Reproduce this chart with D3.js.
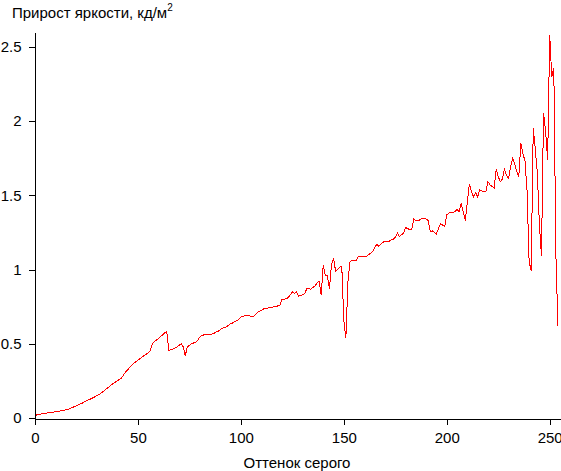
<!DOCTYPE html>
<html><head><meta charset="utf-8">
<script src="https://cdn.jsdelivr.net/npm/d3@7"></script>
<style>
html,body{margin:0;padding:0;background:#fff;}
svg{display:block;font-family:"Liberation Sans",Arial,sans-serif;}
</style></head>
<body><svg id="chart" width="561" height="471"></svg>
<script>
const yTitle = "Прирост яркости, кд/м";
const yTitleSup = "2";
const xTitle = "Оттенок серого";
const xTicks = [0, 50, 100, 150, 200, 250];
const yTicks = [0, 0.5, 1, 1.5, 2, 2.5];
const brightnessGain = [
0.018,0.021,0.024,0.027,0.03,0.032,0.034,0.036,0.038,0.04,
0.042,0.044,0.046,0.049,0.052,0.055,0.058,0.064,0.07,0.076,
0.082,0.088,0.094,0.10,0.11,0.116,0.122,0.128,0.135,0.142,
0.15,0.158,0.166,0.177,0.188,0.2,0.211,0.222,0.232,0.241,
0.25,0.26,0.27,0.29,0.31,0.325,0.34,0.355,0.368,0.38,
0.39,0.40,0.41,0.42,0.43,0.44,0.455,0.50,0.515,0.525,
0.535,0.55,0.56,0.575,0.58,0.455,0.46,0.465,0.47,0.48,
0.49,0.50,0.48,0.42,0.48,0.49,0.50,0.505,0.51,0.52,
0.545,0.555,0.56,0.565,0.565,0.565,0.566,0.57,0.58,0.585,
0.595,0.605,0.61,0.615,0.625,0.635,0.64,0.648,0.655,0.665,
0.68,0.685,0.69,0.69,0.69,0.685,0.683,0.695,0.71,0.72,
0.725,0.735,0.74,0.74,0.745,0.745,0.75,0.752,0.755,0.76,
0.80,0.80,0.805,0.81,0.83,0.85,0.84,0.85,0.82,0.825,
0.83,0.84,0.87,0.87,0.868,0.88,0.89,0.91,0.92,0.83,
1.03,0.96,0.96,0.87,1.03,1.076,0.99,1.0,1.015,1.024,
0.66,0.537,0.92,1.053,1.065,1.06,1.06,1.085,1.087,1.085,
1.09,1.09,1.1,1.11,1.12,1.15,1.17,1.155,1.17,1.184,
1.19,1.19,1.19,1.2,1.204,1.217,1.245,1.22,1.235,1.245,
1.285,1.275,1.27,1.27,1.339,1.33,1.33,1.335,1.345,1.345,
1.34,1.33,1.255,1.26,1.25,1.24,1.278,1.307,1.30,1.29,
1.368,1.38,1.383,1.383,1.39,1.406,1.39,1.447,1.39,1.33,
1.458,1.577,1.525,1.49,1.518,1.49,1.536,1.53,1.525,1.525,
1.592,1.57,1.56,1.548,1.676,1.626,1.592,1.608,1.676,1.637,
1.615,1.69,1.75,1.715,1.66,1.626,1.853,1.78,1.73,1.53,
1.056,0.99,1.954,1.81,1.65,1.3,1.09,2.055,1.93,1.74,
2.58,2.30,2.36,1.10,0.618
];
const grayLevels = brightnessGain.map((_, i) => i);

const svg = d3.select("#chart");
const x = d3.scaleLinear().domain([0, 255]).range([35, 560]);
const y = d3.scaleLinear().domain([0, 2.6]).range([418, 32]);

// line
svg.append("path")
  .datum(grayLevels)
  .attr("fill", "none")
  .attr("stroke", "#ff0000")
  .attr("stroke-width", 1)
  .attr("shape-rendering", "crispEdges")
  .attr("d", d3.line().x(i => x(i)).y(i => y(brightnessGain[i])));

// axes
const fmt = d => d3.format("")(d);
const xAxis = svg.append("g").attr("transform", "translate(0,418.5)")
  .call(d3.axisBottom(x).tickValues(xTicks).tickSize(6).tickSizeOuter(0).tickPadding(8).tickFormat(fmt));
const yAxis = svg.append("g").attr("transform", "translate(34.5,0)")
  .call(d3.axisLeft(y).tickValues(yTicks).tickSize(6).tickSizeOuter(0).tickPadding(7).tickFormat(fmt));
[xAxis, yAxis].forEach(g => {
  g.selectAll("path,line").attr("stroke", "#000").attr("shape-rendering", "crispEdges");
  g.selectAll("text").attr("font-size", 15).attr("fill", "#000")
   .attr("font-family", "'Liberation Sans', Arial, sans-serif");
});

// titles
const t = svg.append("text").attr("x", 12).attr("y", 18)
  .attr("font-size", 15).attr("fill", "#000").text(yTitle);
t.append("tspan").attr("font-size", 10).attr("dy", -7).text(yTitleSup);

svg.append("text").attr("x", 297).attr("y", 468).attr("text-anchor", "middle")
  .attr("font-size", 15).attr("fill", "#000").text(xTitle);
</script></body></html>
